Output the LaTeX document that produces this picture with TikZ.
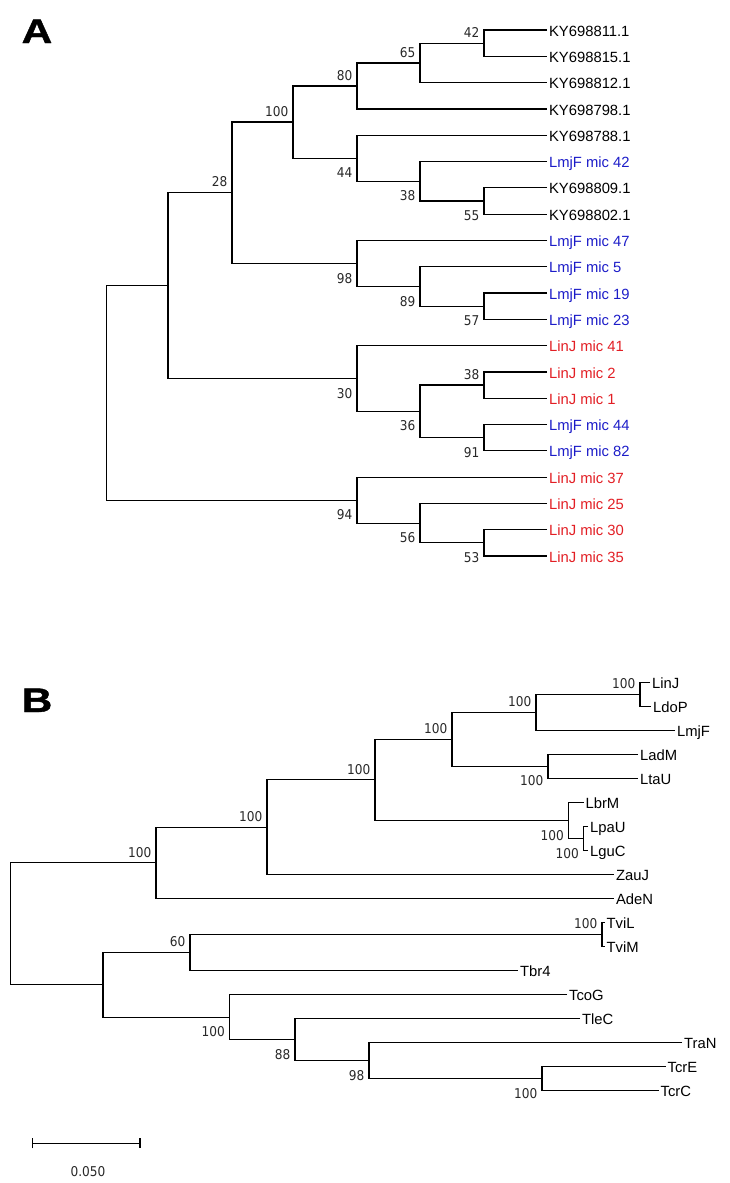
\documentclass[tikz,border=0pt]{standalone}
\usepackage{fontspec}
\usepackage{tikz}
\usetikzlibrary{arrows.meta}
\setmainfont{Liberation Sans}
\newfontfamily\bootfamily[FakeStretch=0.9]{DejaVu Sans}
\newfontfamily\panelfamily[FakeStretch=1.25,FakeBold=1.2]{Liberation Sans}
\newcommand{\leaffont}{\fontsize{14.8}{16}\selectfont}
\newcommand{\bsfont}{\bootfamily\fontsize{13.5}{15}\selectfont}
\newcommand{\panelfont}{\panelfamily\bfseries\fontsize{34}{36}\selectfont}
\definecolor{lmjblue}{RGB}{28,28,200}
\definecolor{linjred}{RGB}{226,30,36}
\definecolor{bootgray}{RGB}{40,40,40}

\begin{document}
\begin{tikzpicture}[x=1pt,y=-1pt,line width=1.2pt,
  leaf/.style={anchor=west,inner sep=1.5pt,text height=10.6pt,text depth=0pt,yshift=-0.8pt,font=\leaffont},
  lmj/.style={leaf,text=lmjblue},
  lin/.style={leaf,text=linjred},
  bsup/.style={anchor=south east,inner sep=0pt,xshift=-4pt,yshift=5pt,font=\bsfont,text=bootgray},
  bsdn/.style={anchor=north east,inner sep=0pt,xshift=-4pt,yshift=-9pt,font=\bsfont,text=bootgray},
  panel/.style={anchor=base west,inner sep=0pt,font=\panelfont}]
\useasboundingbox (0,0) rectangle (729,1183);

% panel A
\node[panel] (pa) at (21,43) {A};

\coordinate (k1) at (547,30);
\coordinate (k2) at (547,56.3);
\coordinate (k3) at (547,82.6);
\coordinate (k4) at (547,108.9);
\coordinate (k5) at (547,135.2);
\coordinate (k6) at (547,161.5);
\coordinate (k7) at (547,187.8);
\coordinate (k8) at (547,214.1);
\coordinate (k9) at (547,240.4);
\coordinate (k10) at (547,266.7);
\coordinate (k11) at (547,293);
\coordinate (k12) at (547,319.3);
\coordinate (k13) at (547,345.6);
\coordinate (k14) at (547,371.9);
\coordinate (k15) at (547,398.2);
\coordinate (k16) at (547,424.5);
\coordinate (k17) at (547,450.8);
\coordinate (k18) at (547,477.1);
\coordinate (k19) at (547,503.4);
\coordinate (k20) at (547,529.7);
\coordinate (k21) at (547,556);

\coordinate (a42) at (484,43.15);
\coordinate (a65) at (420,62.9);
\coordinate (a80) at (357,85.9);
\coordinate (a55) at (484,200.95);
\coordinate (a38) at (420,181.2);
\coordinate (a44) at (357,158.2);
\coordinate (a100) at (293,122.05);
\coordinate (a57) at (484,306.15);
\coordinate (a89) at (420,286.4);
\coordinate (a98) at (357,263.4);
\coordinate (a28) at (232,192.7);
\coordinate (a38b) at (484,385.05);
\coordinate (a91) at (484,437.65);
\coordinate (a36) at (420,411.35);
\coordinate (a30) at (357,378.5);
\coordinate (ax) at (168,285.6);
\coordinate (a53) at (484,542.85);
\coordinate (a56) at (420,523.1);
\coordinate (a94) at (357,500.1);
\coordinate (ra) at (106.5,392.85);

\draw (k1) -| (a42) |- (k2);
\draw (a42) -| (a65) |- (k3);
\draw (a65) -| (a80) |- (k4);
\draw (a80) -| (a100) |- (a44);
\draw (k5) -| (a44) |- (a38);
\draw (k6) -| (a38) |- (a55);
\draw (k7) -| (a55) |- (k8);
\draw (a100) -| (a28) |- (a98);
\draw (k9) -| (a98) |- (a89);
\draw (k10) -| (a89) |- (a57);
\draw (k11) -| (a57) |- (k12);
\draw (a28) -| (ax) |- (a30);
\draw (k13) -| (a30) |- (a36);
\draw (a38b) -| (a36) |- (a91);
\draw (k14) -| (a38b) |- (k15);
\draw (k16) -| (a91) |- (k17);
\draw (ax) -| (ra) |- (a94);
\draw (k18) -| (a94) |- (a56);
\draw (k19) -| (a56) |- (a53);
\draw (k20) -| (a53) |- (k21);

\node[leaf] (l1) at (k1) {KY698811.1};
\node[leaf] (l2) at (k2) {KY698815.1};
\node[leaf] (l3) at (k3) {KY698812.1};
\node[leaf] (l4) at (k4) {KY698798.1};
\node[leaf] (l5) at (k5) {KY698788.1};
\node[lmj] (l6) at (k6) {LmjF mic 42};
\node[leaf] (l7) at (k7) {KY698809.1};
\node[leaf] (l8) at (k8) {KY698802.1};
\node[lmj] (l9) at (k9) {LmjF mic 47};
\node[lmj] (l10) at (k10) {LmjF mic 5};
\node[lmj] (l11) at (k11) {LmjF mic 19};
\node[lmj] (l12) at (k12) {LmjF mic 23};
\node[lin] (l13) at (k13) {LinJ mic 41};
\node[lin] (l14) at (k14) {LinJ mic 2};
\node[lin] (l15) at (k15) {LinJ mic 1};
\node[lmj] (l16) at (k16) {LmjF mic 44};
\node[lmj] (l17) at (k17) {LmjF mic 82};
\node[lin] (l18) at (k18) {LinJ mic 37};
\node[lin] (l19) at (k19) {LinJ mic 25};
\node[lin] (l20) at (k20) {LinJ mic 30};
\node[lin] (l21) at (k21) {LinJ mic 35};

\node[bsup] (s42) at (a42) {42};
\node[bsup] (s65) at (a65) {65};
\node[bsup] (s80) at (a80) {80};
\node[bsup] (s100) at (a100) {100};
\node[bsup] (s28) at (a28) {28};
\node[bsdn] (s44) at (a44) {44};
\node[bsdn] (s38) at (a38) {38};
\node[bsdn] (s55) at (a55) {55};
\node[bsdn] (s98) at (a98) {98};
\node[bsdn] (s89) at (a89) {89};
\node[bsdn] (s57) at (a57) {57};
\node[bsdn] (s30) at (a30) {30};
\node[bsdn] (s36) at (a36) {36};
\node[bsup] (s38b) at (a38b) {38};
\node[bsdn] (s91) at (a91) {91};
\node[bsdn] (s94) at (a94) {94};
\node[bsdn] (s56) at (a56) {56};
\node[bsdn] (s53) at (a53) {53};

% panel B
\node[panel] (pb) at (21,712) {B};

\coordinate (linj) at (650,682.2);
\coordinate (ldop) at (651,706.2);
\coordinate (lmjf) at (675,730.3);
\coordinate (ladm) at (638,754.3);
\coordinate (ltau) at (638,778.3);
\coordinate (lbrm) at (583.5,802.4);
\coordinate (lpau) at (588,826.4);
\coordinate (lguc) at (588,850.4);
\coordinate (zauj) at (614,874.4);
\coordinate (aden) at (614,898.5);
\coordinate (tvil) at (604.5,922.5);
\coordinate (tvim) at (604.5,946.5);
\coordinate (tbr4) at (518,970.6);
\coordinate (tcog) at (567,994.6);
\coordinate (tlec) at (580,1018.6);
\coordinate (tran) at (682,1042.7);
\coordinate (tcre) at (665.5,1066.7);
\coordinate (tcrc) at (658.5,1090.7);

\coordinate (b1) at (640,694.2);
\coordinate (b2) at (536,712.25);
\coordinate (b3) at (548,766.3);
\coordinate (b4) at (452,739.3);
\coordinate (b5) at (583.5,838.4);
\coordinate (b6) at (568.5,820.4);
\coordinate (b7) at (375,779.85);
\coordinate (b8) at (267,827.1);
\coordinate (b9) at (156,862.8);
\coordinate (b10) at (602,934.5);
\coordinate (b11) at (190,952.55);
\coordinate (b12) at (542,1078.7);
\coordinate (b13) at (369,1060.7);
\coordinate (b14) at (295,1039.65);
\coordinate (b15) at (229.5,1017.1);
\coordinate (b16) at (103,984.8);
\coordinate (rb) at (10.5,923.8);

\draw (linj) -| (b1) |- (ldop);
\draw (b1) -| (b2) |- (lmjf);
\draw (ladm) -| (b3) |- (ltau);
\draw (b2) -| (b4) |- (b3);
\draw (lpau) -| (b5) |- (lguc);
\draw (lbrm) -| (b6) |- (b5);
\draw (b4) -| (b7) |- (b6);
\draw (b7) -| (b8) |- (zauj);
\draw (b8) -| (b9) |- (aden);
\draw (tvil) -| (b10) |- (tvim);
\draw (b10) -| (b11) |- (tbr4);
\draw (tcre) -| (b12) |- (tcrc);
\draw (tran) -| (b13) |- (b12);
\draw (tlec) -| (b14) |- (b13);
\draw (tcog) -| (b15) |- (b14);
\draw (b11) -| (b16) |- (b15);
\draw (b9) -| (rb) |- (b16);

\node[leaf] (t1) at (linj) {LinJ};
\node[leaf] (t2) at (ldop) {LdoP};
\node[leaf] (t3) at (lmjf) {LmjF};
\node[leaf] (t4) at (ladm) {LadM};
\node[leaf] (t5) at (ltau) {LtaU};
\node[leaf] (t6) at (lbrm) {LbrM};
\node[leaf] (t7) at (lpau) {LpaU};
\node[leaf] (t8) at (lguc) {LguC};
\node[leaf] (t9) at (zauj) {ZauJ};
\node[leaf] (t10) at (aden) {AdeN};
\node[leaf] (t11) at (tvil) {TviL};
\node[leaf] (t12) at (tvim) {TviM};
\node[leaf] (t13) at (tbr4) {Tbr4};
\node[leaf] (t14) at (tcog) {TcoG};
\node[leaf] (t15) at (tlec) {TleC};
\node[leaf] (t16) at (tran) {TraN};
\node[leaf] (t17) at (tcre) {TcrE};
\node[leaf] (t18) at (tcrc) {TcrC};

\node[bsup] (c1) at (b1) {100};
\node[bsup] (c2) at (b2) {100};
\node[bsdn] (c3) at (b3) {100};
\node[bsup] (c4) at (b4) {100};
\node[bsdn] (c5) at (b5) {100};
\node[bsdn] (c6) at (b6) {100};
\node[bsup] (c7) at (b7) {100};
\node[bsup] (c8) at (b8) {100};
\node[bsup] (c9) at (b9) {100};
\node[bsup] (c10) at (b10) {100};
\node[bsup] (c11) at (b11) {60};
\node[bsdn] (c12) at (b12) {100};
\node[bsdn] (c13) at (b13) {98};
\node[bsdn] (c14) at (b14) {88};
\node[bsdn] (c15) at (b15) {100};

% scale bar
\coordinate (sb1) at (32,1143.3);
\coordinate (sb2) at (140.6,1143.3);
\draw[{Bar[width=10pt]}-{Bar[width=10pt]}] (sb1) -- (sb2);
\node[font=\bsfont,text=bootgray,inner sep=0pt] (sbl) at (88,1172) {0.050};
\end{tikzpicture}
\end{document}
